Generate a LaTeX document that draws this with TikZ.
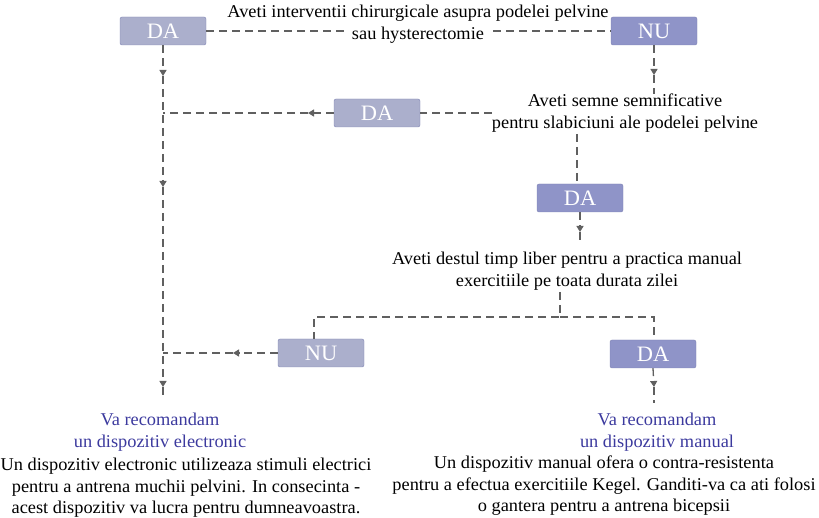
\documentclass[tikz,border=0pt]{standalone}
\usepackage{fontspec}
\setmainfont{Liberation Serif}[FakeStretch=1.02]
\usetikzlibrary{arrows.meta}
\definecolor{boxlight}{HTML}{ABAFCC}
\definecolor{boxdark}{HTML}{8F94C8}
\definecolor{boxedge}{HTML}{7F84B4}
\definecolor{linegray}{HTML}{606060}
\definecolor{recblue}{HTML}{3C3A9E}
\begin{document}
\begin{tikzpicture}[x=1pt,y=-1pt,
  lightbox/.style={draw=boxedge, fill=boxlight, rounded corners=2pt, minimum width=86pt, minimum height=28pt, inner sep=0pt, text=white, font=\fontsize{22}{24}\selectfont},
  darkbox/.style={lightbox, fill=boxdark},
  question/.style={align=center, inner sep=0pt, font=\fontsize{18}{21.5}\selectfont},
  rec/.style={question, text=recblue},
  conn/.style={draw=linegray, dash pattern=on 8pt off 5pt, line width=1.3pt},
  tipped/.style={conn, -{Triangle[width=7pt,length=6pt]}}
]
\useasboundingbox (0,0) rectangle (819,518);
% nodes
\node[lightbox] (da1) at (163,31) {DA};
\node[darkbox] (nu1) at (654,31) {NU};
\node[question] (q1) at (418,24) {Aveti interventii chirurgicale asupra podelei pelvine\\sau hysterectomie};
\node[lightbox] (da2) at (377,113) {DA};
\node[question] (q2) at (625,113) {Aveti semne semnificative\\pentru slabiciuni ale podelei pelvine};
\node[darkbox] (da3) at (580,198) {DA};
\node[question] (q3) at (567,271) {Aveti destul timp liber pentru a practica manual\\exercitiile pe toata durata zilei};
\node[lightbox] (nu3) at (321,353) {NU};
\node[darkbox] (da4) at (653,354) {DA};
\node[rec] (r1) at (160,432) {Va recomandam\\un dispozitiv electronic};
\node[rec] (r2) at (657,432) {Va recomandam\\un dispozitiv manual};
\node[question] (d1) at (186,488) {Un dispozitiv electronic utilizeaza stimuli electrici\\pentru a antrena muchii pelvini. In consecinta -\\acest dispozitiv va lucra pentru dumneavoastra.};
\node[question] (d2) at (604,486) {Un dispozitiv manual ofera o contra-resistenta\\pentru a efectua exercitiile Kegel. Ganditi-va ca ati folosi\\o gantera pentru a antrena bicepsii};
% coordinates
\coordinate (t1a) at (345,31);
\coordinate (t1b) at (493,31);
\coordinate (l1) at (163,76);
\coordinate (l2) at (163,113);
\coordinate (l3) at (163,187);
\coordinate (l4) at (163,353);
\coordinate (l5) at (163,387);
\coordinate (l6) at (163,397);
\coordinate (n1) at (654,75);
\coordinate (n2) at (654,94);
\coordinate (q2l) at (492,113);
\coordinate (h1) at (308,113);
\coordinate (q2b) at (577,134);
\coordinate (a3) at (580,232);
\coordinate (a3e) at (580,243);
\coordinate (s1) at (560,292);
\coordinate (s2) at (560,317);
\coordinate (s3) at (314,317);
\coordinate (s4) at (654,317);
\coordinate (h2) at (233,353);
\coordinate (a4) at (654,387);
\coordinate (a4e) at (654,403);
% connectors
\draw[conn] (da1.east) -- (t1a);
\draw[conn] (t1b) -- (nu1.west);
\draw[tipped] (da1.south) -- (l1);
\draw[tipped] (l1) -- (l3);
\draw[tipped] (l3) -- (l5);
\draw[conn] (l5) -- (l6);
\draw[tipped] (nu1.south) -- (n1);
\draw[conn] (n1) -- (n2);
\draw[conn] (q2l) -- (da2.east);
\draw[tipped] (da2.west) -- (h1);
\draw[conn] (h1) -- (l2);
\draw[conn] (q2b) -- (q2b |- da3.north);
\draw[tipped] (da3.south) -- (a3);
\draw[conn] (a3) -- (a3e);
\draw[conn] (s1) -- (s2) -- (s3) -- (s3 |- nu3.north);
\draw[conn] (s2) -- (s4) -- (s4 |- da4.north);
\draw[tipped] (nu3.west) -- (h2);
\draw[conn] (h2) -- (l4);
\draw[tipped] (da4.south) -- (a4);
\draw[conn] (a4) -- (a4e);
\end{tikzpicture}
\end{document}
